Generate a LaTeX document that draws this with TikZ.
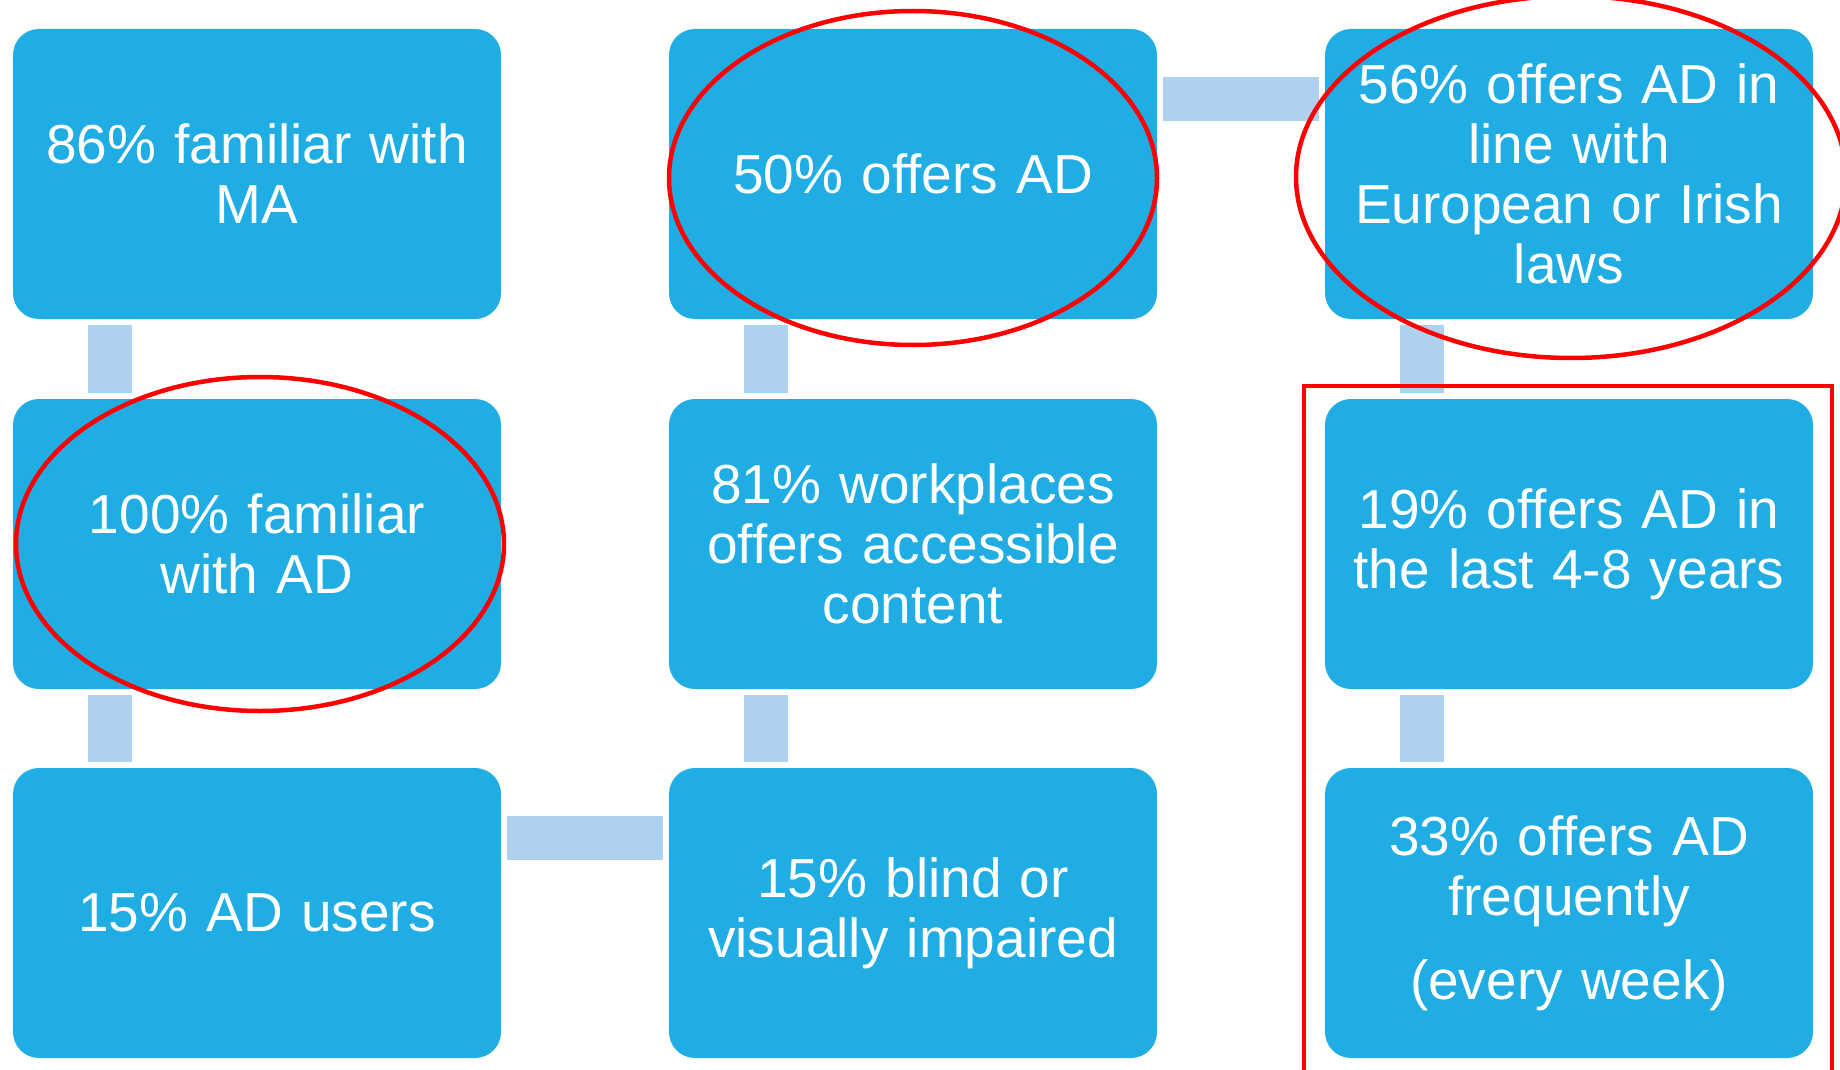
\documentclass[tikz,border=0pt]{standalone}
\usepackage{fontspec}
\setmainfont[WordSpace=0.8]{Liberation Sans}
\usetikzlibrary{shapes}

\definecolor{boxblue}{RGB}{31,173,227}
\definecolor{linkblue}{RGB}{173,209,238}

\begin{document}
\begin{tikzpicture}[x=1pt, y=-1pt]
\tikzstyle{vertexr}=[rectangle, rounded corners=26pt, fill=boxblue, text=white, minimum width=488pt, minimum height=290pt, inner sep=0pt, text width=470pt, align=center, font=\fontsize{55}{60}\selectfont]
\tikzstyle{linkstyle}=[linkblue, line width=44pt, shorten <=6pt, shorten >=6pt]
\tikzstyle{ringstyle}=[red, line width=4.5pt]

\useasboundingbox (0,0) rectangle (1840,1070);

\node[vertexr] (G0x0) at (257,174) {86\% familiar with\\MA};
\node[vertexr] (G0x1) at (257,544) {100\% familiar\\with AD};
\draw[linkstyle] ([xshift=-147pt]G0x0.south) -- ([xshift=-147pt]G0x1.north);
\node[vertexr] (G0x2) at (257,913) {15\% AD users};
\draw[linkstyle] ([xshift=-147pt]G0x1.south) -- ([xshift=-147pt]G0x2.north);
\node[vertexr] (G1x2) at (913,913) {15\% blind or\\visually impaired};
\draw[linkstyle] ([yshift=75pt]G0x2.east) -- ([yshift=75pt]G1x2.west);
\node[vertexr] (G1x1) at (913,544) {81\% workplaces\\offers accessible\\content};
\draw[linkstyle] ([xshift=-147pt]G1x1.south) -- ([xshift=-147pt]G1x2.north);
\node[vertexr] (G1x0) at (913,174) {50\% offers AD};
\draw[linkstyle] ([xshift=-147pt]G1x0.south) -- ([xshift=-147pt]G1x1.north);
\node[vertexr] (G2x0) at (1569,174) {56\% offers AD in\\line with\\European or Irish\\laws};
\draw[linkstyle] ([yshift=75pt]G1x0.east) -- ([yshift=75pt]G2x0.west);
\node[vertexr] (G2x1) at (1569,544) {19\% offers AD in\\the last 4-8 years};
\draw[linkstyle] ([xshift=-147pt]G2x0.south) -- ([xshift=-147pt]G2x1.north);
\node[vertexr] (G2x2) at (1569,913) {33\% offers AD\\frequently\\[24pt](every week)};
\draw[linkstyle] ([xshift=-147pt]G2x1.south) -- ([xshift=-147pt]G2x2.north);

% red marks
\draw[ringstyle] ([xshift=3pt]G0x1.center) ellipse [x radius=244pt, y radius=167pt];
\draw[ringstyle] ([yshift=-4pt]G1x0.center) ellipse [x radius=244pt, y radius=167pt];
\draw[ringstyle] ([xshift=2pt,yshift=-3pt]G2x0.center) ellipse [x radius=275pt, y radius=181pt];
\draw[ringstyle] (1304,386) rectangle (1832,1080);
\end{tikzpicture}
\end{document}
